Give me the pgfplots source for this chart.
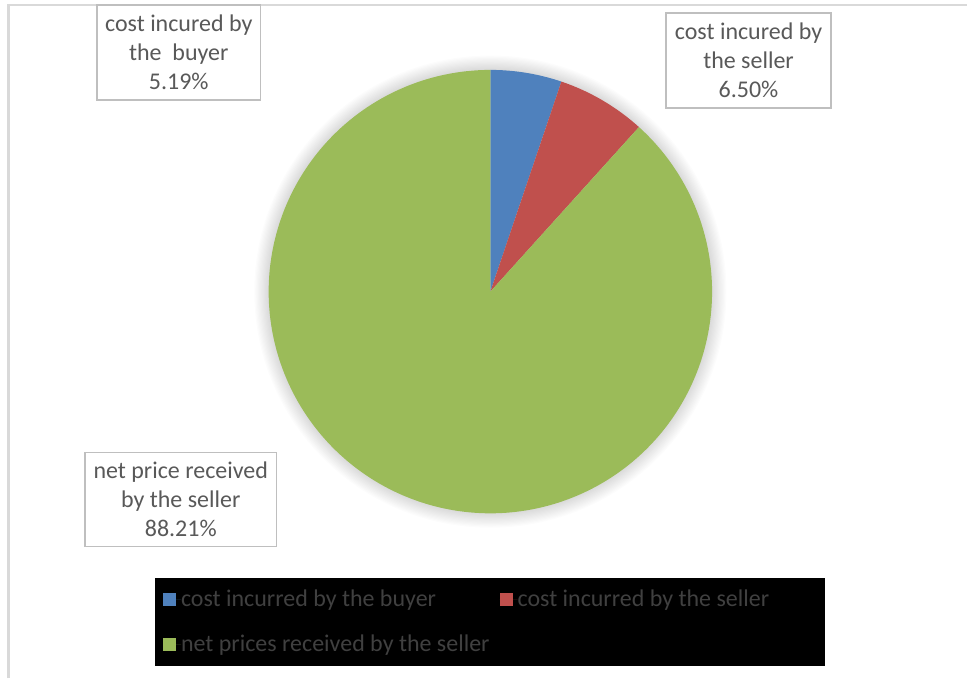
\documentclass[border=0pt]{standalone}
\usepackage{pgfplots}
\pgfplotsset{compat=1.18}
\usepackage{fontspec}
\setmainfont{Carlito}
\definecolor{pieblue}{HTML}{4F81BD}
\definecolor{piered}{HTML}{C0504D}
\definecolor{piegreen}{HTML}{9BBB59}
\definecolor{labgray}{HTML}{595959}
\definecolor{boxgray}{HTML}{BFBFBF}
\definecolor{legtext}{HTML}{404040}
\definecolor{framegray}{HTML}{D9D9D9}
\begin{document}
\begin{tikzpicture}
\begin{axis}[
  scale only axis, width=726pt, height=509.25pt,
  xmin=0, xmax=968, ymin=0, ymax=679, y dir=reverse,
  hide axis, clip=false,
  legend columns=2, legend cell align=left,
  legend image code/.code={\fill[#1] (0pt,-4.875pt) rectangle (9.75pt,4.875pt); \path (0pt,0pt) -- (13.5pt,0pt);},
  legend style={at={(axis cs:155,578)}, anchor=north west, fill=black, draw=none,
    inner xsep=6pt, inner ysep=9.1pt, text=legtext,
    font=\fontsize{18}{20}\selectfont,
    nodes={inner sep=0pt, text height=12.75pt, text depth=1.5pt},
    row sep=19.5pt},
]
% full canvas
\path (axis cs:0,0) rectangle (axis cs:968,679);
% frame
\draw[framegray, line width=1.9pt] (axis cs:8.5,679) -- (axis cs:8.5,5) -- (axis cs:968,5);
% soft shadow
\pgfplotsinvokeforeach{1,...,12}{
  \fill[black, opacity=0.012] (axis cs:491,292) circle[radius={222+1.2*#1}];
}
% slices: buyer 5.19, seller 6.50, net 88.21 (percent, clockwise from top)
\addplot[fill=pieblue, draw=none, domain=0:5.19, samples=30]
  ({491+222*sin(3.6*x)}, {292-222*cos(3.6*x)}) -- (axis cs:491,292) -- cycle;
\addlegendentry{\makebox[239.25pt][l]{cost incurred by the buyer}}
\addplot[fill=piered, draw=none, domain=5.19:11.69, samples=30]
  ({491+222*sin(3.6*x)}, {292-222*cos(3.6*x)}) -- (axis cs:491,292) -- cycle;
\addlegendentry{\makebox[225pt][l]{cost incurred by the seller}}
\addplot[fill=piegreen, draw=none, domain=11.69:100, samples=300]
  ({491+222*sin(3.6*x)}, {292-222*cos(3.6*x)}) -- (axis cs:491,292) -- cycle;
\addlegendentry{net prices received by the seller}
% data labels
\tikzset{lab/.style={draw=boxgray, line width=1.1pt, fill=white, text=labgray, align=center,
  inner sep=0pt, font=\fontsize{18}{21.75}\selectfont}}
\node[lab, minimum width=123pt, minimum height=71.25pt] at (axis cs:179,52.5)
  {cost incured by\\the\ \ buyer\\5.19\%};
\node[lab, minimum width=123.75pt, minimum height=71.25pt] at (axis cs:749.5,60.5)
  {cost incured by\\the seller\\6.50\%};
\node[lab, minimum width=144pt, minimum height=70.5pt] at (axis cs:181,500)
  {net price received\\by the seller\\88.21\%};
\end{axis}
\end{tikzpicture}
\end{document}
